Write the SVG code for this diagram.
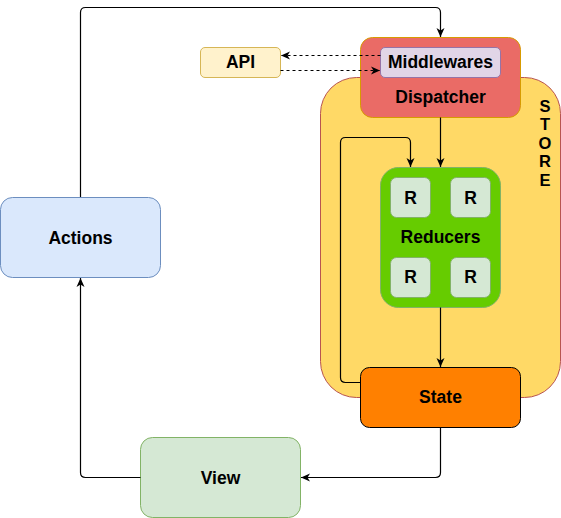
<svg xmlns="http://www.w3.org/2000/svg" width="561" height="518" viewBox="0 0 561 518">
<defs>
<marker id="arr" viewBox="0 0 10 10" refX="9" refY="5" markerWidth="10" markerHeight="10" markerUnits="userSpaceOnUse" orient="auto">
<path d="M0,1 L9,5 L0,9 L2.5,5 Z" fill="#000"/>
</marker>
<style>
text{font-family:"Liberation Sans",Arial,sans-serif;font-weight:bold;font-size:17.5px;fill:#000;text-anchor:middle}
text.s{font-size:16.5px}
.c{fill:none;stroke:#000;stroke-width:1.2}
.d{stroke-dasharray:3 3}
</style>
</defs>
<g id="store">
<rect x="320.5" y="77.5" width="240" height="320" rx="36" fill="#FFD966" stroke="#b85450"/>
<text class="s" x="545" y="111.5">S</text>
<text class="s" x="545" y="130">T</text>
<text class="s" x="545" y="148.5">O</text>
<text class="s" x="545" y="167">R</text>
<text class="s" x="545" y="185.5">E</text>
</g>
<g id="api">
<rect x="200.5" y="47.5" width="80" height="30" rx="4.5" fill="#fff2cc" stroke="#d6b656"/>
<text x="240.5" y="68.3">API</text>
</g>
<g id="dispatcher">
<rect x="360.5" y="37.5" width="160" height="80" rx="12" fill="#EA6B66" stroke="#d79b00"/>
<text x="440.5" y="103.3">Dispatcher</text>
</g>
<g id="middlewares">
<rect x="380.5" y="47.5" width="120" height="30" rx="4.5" fill="#e1d5e7" stroke="#9673a6"/>
<text x="440.5" y="68">Middlewares</text>
</g>
<g id="reducers">
<rect x="380.5" y="167.5" width="120" height="140" rx="18" fill="#66CC00" stroke="#82b366"/>
<text x="440.5" y="243.3">Reducers</text>
</g>
<g id="r1"><rect x="390.5" y="177.5" width="40" height="40" rx="6" fill="#d5e8d4" stroke="#82b366"/><text x="410.5" y="204.3">R</text></g>
<g id="r2"><rect x="450.5" y="177.5" width="40" height="40" rx="6" fill="#d5e8d4" stroke="#82b366"/><text x="470.5" y="204.3">R</text></g>
<g id="r3"><rect x="390.5" y="257.5" width="40" height="40" rx="6" fill="#d5e8d4" stroke="#82b366"/><text x="410.5" y="283.3">R</text></g>
<g id="r4"><rect x="450.5" y="257.5" width="40" height="40" rx="6" fill="#d5e8d4" stroke="#82b366"/><text x="470.5" y="283.3">R</text></g>
<g id="state">
<rect x="360.5" y="367.5" width="160" height="60" rx="9" fill="#FF8000" stroke="#000"/>
<text x="440.5" y="403.3">State</text>
</g>
<g id="actions">
<rect x="0.5" y="197.5" width="160" height="80" rx="12" fill="#dae8fc" stroke="#6c8ebf"/>
<text x="80.5" y="244">Actions</text>
</g>
<g id="view">
<rect x="140.5" y="437.5" width="160" height="80" rx="12" fill="#d5e8d4" stroke="#82b366"/>
<text x="220.5" y="484">View</text>
</g>
<g id="connectors">
<path class="c" d="M80.5,197 V12.5 Q80.5,7.5 85.5,7.5 H435.5 Q440.5,7.5 440.5,12.5 V37" marker-end="url(#arr)"/>
<path class="c" d="M440.5,117.5 V167" marker-end="url(#arr)"/>
<path class="c" d="M440.5,307.5 V367" marker-end="url(#arr)"/>
<path class="c" d="M360.5,382.5 H345.5 Q340.5,382.5 340.5,377.5 V142.5 Q340.5,137.5 345.5,137.5 H405.5 Q410.5,137.5 410.5,142.5 V167" marker-end="url(#arr)"/>
<path class="c" d="M440.5,427.5 V472.5 Q440.5,477.5 435.5,477.5 H301" marker-end="url(#arr)"/>
<path class="c" d="M140.5,477.5 H85.5 Q80.5,477.5 80.5,472.5 V278" marker-end="url(#arr)"/>
<path class="c d" d="M380.5,55.5 H281" marker-end="url(#arr)"/>
<path class="c d" d="M280.5,70.5 H380" marker-end="url(#arr)"/>
</g>
</svg>
